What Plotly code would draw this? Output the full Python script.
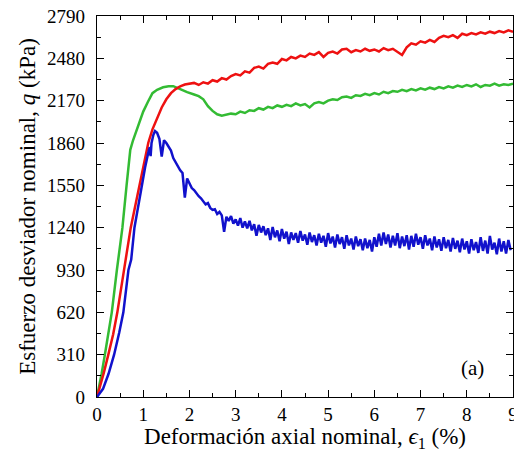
import numpy as np
import plotly.graph_objects as go

# ---------------- data ----------------
# Red curve: initial rise (explicit points) + plateau sampled every 0.1 %
red_rise_x = [0, 0.065, 0.15, 0.245, 0.35, 0.44, 0.5, 0.57, 0.62, 0.73, 0.83, 0.93, 1.02,
              1.11, 1.2, 1.29, 1.4, 1.5, 1.6, 1.7, 1.8, 1.9, 2.0]
red_rise_y = [0, 73, 180, 310, 460, 620, 750, 930, 1006, 1240, 1400, 1550, 1710,
              1862, 1960, 2034, 2120, 2180, 2225, 2255, 2275, 2288, 2295]
red_plat_start, red_plat_step = 2.1, 0.1
red_plat_y = [2300, 2285, 2305, 2295, 2320, 2310, 2335, 2325, 2350, 2365,
              2355, 2385, 2375, 2410, 2420, 2405, 2440, 2450, 2440, 2475,
              2465, 2490, 2480, 2500, 2490, 2515, 2505, 2525, 2490, 2520,
              2530, 2515, 2545, 2550, 2525, 2540, 2530, 2550, 2535, 2545,
              2530, 2555, 2540, 2550, 2530, 2505, 2560, 2590, 2580, 2605,
              2595, 2615, 2600, 2630, 2645, 2635, 2650, 2630, 2660, 2650,
              2665, 2655, 2670, 2660, 2675, 2665, 2680, 2670, 2685, 2675]

# Green curve
green_rise_x = [0, 0.05, 0.1, 0.17, 0.25, 0.32, 0.43, 0.46, 0.55, 0.64, 0.68, 0.72, 0.78,
                0.86, 0.93, 1.0, 1.1, 1.2, 1.3, 1.43, 1.55, 1.65, 1.8, 1.95, 2.1, 2.2,
                2.3, 2.4, 2.5, 2.6, 2.7]
green_rise_y = [0, 73, 170, 310, 470, 620, 930, 1006, 1240, 1550, 1690, 1810, 1880,
                1960, 2034, 2090, 2160, 2225, 2250, 2268, 2275, 2276, 2255, 2232, 2215,
                2203, 2180, 2130, 2095, 2070, 2060]
green_plat_start, green_plat_step = 2.8, 0.1
green_plat_y = [2065, 2075, 2070, 2090, 2080, 2100, 2095, 2115, 2105, 2125,
                2115, 2135, 2125, 2140, 2130, 2150, 2135, 2145, 2120, 2150,
                2160, 2150, 2170, 2180, 2175, 2195, 2200, 2190, 2210, 2205,
                2220, 2210, 2225, 2215, 2235, 2225, 2240, 2235, 2250, 2240,
                2255, 2245, 2260, 2250, 2265, 2255, 2270, 2260, 2275, 2265,
                2280, 2270, 2285, 2275, 2290, 2270, 2285, 2280, 2295, 2280,
                2290, 2285, 2295]

# Blue curve
blue_rise_x = [0, 0.05, 0.13, 0.25, 0.37, 0.48, 0.57, 0.68, 0.74, 0.81, 0.89, 0.97, 1.04,
               1.11, 1.14, 1.16, 1.18, 1.22, 1.255]
blue_rise_y = [0, 20, 60, 170, 310, 470, 620, 930, 1006, 1240, 1400, 1550, 1680,
               1790, 1830, 1764, 1860, 1920, 1948]
blue_tail_start, blue_tail_step = 1.30, 0.05
blue_tail_y = [1935, 1890, 1760, 1880, 1860, 1830, 1805, 1750, 1720, 1680,
               1660, 1640, 1460, 1600, 1560, 1530, 1515, 1490, 1470, 1455,
               1430, 1410, 1420, 1385, 1370, 1375, 1340, 1355, 1330, 1210,
               1320, 1290, 1325, 1270, 1300, 1255, 1310, 1240, 1285, 1235,
               1290, 1220, 1265, 1180, 1260, 1205, 1250, 1185, 1235, 1150,
               1245, 1170, 1220, 1140, 1230, 1160, 1210, 1120, 1205, 1150,
               1200, 1130, 1215, 1145, 1190, 1115, 1205, 1135, 1185, 1110,
               1195, 1130, 1180, 1100, 1200, 1125, 1175, 1095, 1190, 1120,
               1170, 1085, 1185, 1110, 1160, 1080, 1175, 1105, 1155, 1075,
               1160, 1090, 1150, 1065, 1170, 1100, 1195, 1110, 1205, 1120,
               1190, 1095, 1180, 1110, 1200, 1090, 1175, 1105, 1185, 1080,
               1180, 1100, 1195, 1115, 1170, 1085, 1185, 1110, 1160, 1075,
               1175, 1095, 1155, 1070, 1170, 1090, 1150, 1065, 1165, 1085,
               1145, 1060, 1160, 1080, 1140, 1050, 1155, 1075, 1135, 1055,
               1170, 1070, 1145, 1050, 1180, 1080, 1130, 1045, 1160, 1065,
               1140, 1050, 1150, 1075]

y_ticks = [0, 310, 620, 930, 1240, 1550, 1860, 2170, 2480, 2790]
x_ticks = [0, 1, 2, 3, 4, 5, 6, 7, 8, 9]

# ---------------- build series ----------------
def series(rise_x, rise_y, start, step, ys):
    xs = list(rise_x) + [round(start + i * step, 3) for i in range(len(ys))]
    return xs, list(rise_y) + list(ys)

gx, gy = series(green_rise_x, green_rise_y, green_plat_start, green_plat_step, green_plat_y)
rx, ry = series(red_rise_x, red_rise_y, red_plat_start, red_plat_step, red_plat_y)
bx, by = series(blue_rise_x, blue_rise_y, blue_tail_start, blue_tail_step, blue_tail_y)

FONT = "Liberation Serif"
fig = go.Figure()
fig.add_trace(go.Scatter(x=gx, y=gy, mode="lines", line=dict(color="#33bb33", width=2.5)))
fig.add_trace(go.Scatter(x=rx, y=ry, mode="lines", line=dict(color="#ee1111", width=2.5)))
fig.add_trace(go.Scatter(x=bx, y=by, mode="lines", line=dict(color="#1111cc", width=2.5)))

axis_common = dict(showgrid=False, zeroline=False, showline=True, linecolor="black",
                   linewidth=1.2, mirror="ticks", ticks="inside", ticklen=7,
                   tickcolor="black", tickwidth=1, ticklabeloverflow="allow",
                   tickfont=dict(family=FONT, size=19, color="black"))

fig.update_xaxes(range=[0, 9], tickvals=x_ticks, ticktext=[str(v) for v in x_ticks],
                 minor=dict(dtick=0.5, ticks="inside", ticklen=4, tickcolor="black"),
                 title=dict(text="Deformación axial nominal, <i>ϵ</i><sub>1</sub> (%)",
                            font=dict(family=FONT, size=23, color="black"), standoff=2),
                 ticklabelstandoff=0, **axis_common)
fig.update_yaxes(range=[0, 2790], tickvals=y_ticks, ticktext=[str(v) for v in y_ticks],
                 minor=dict(dtick=155, tick0=0, ticks="inside", ticklen=4, tickcolor="black"),
                 title=dict(text="Esfuerzo desviador nominal, <i>q</i> (kPa)",
                            font=dict(family=FONT, size=23, color="black"), standoff=5),
                 ticklabelstandoff=7, **axis_common)

fig.add_annotation(x=8.12, y=213, xref="x", yref="y", text="(a)", showarrow=False,
                   font=dict(family=FONT, size=21, color="black"))

fig.update_layout(width=514, height=452, showlegend=False,
                  margin=dict(l=97, r=1, t=16, b=55, autoexpand=False),
                  plot_bgcolor="white", paper_bgcolor="white")

# remove the default page margin so the figure fills the 514x452 window exactly
fig.write_html("out.html", config={"displayModeBar": False},
               post_script="document.body.style.margin='0';"
                           "document.body.style.overflow='hidden';")
